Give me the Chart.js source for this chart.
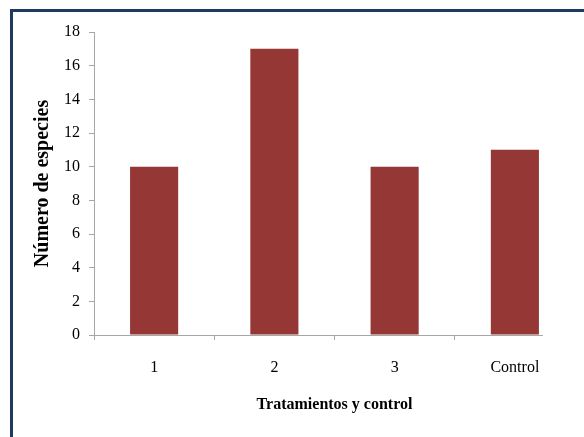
<!DOCTYPE html>
<html>
<head>
<meta charset="utf-8">
<script src="https://cdn.jsdelivr.net/npm/chart.js@4"></script>
<style>
  html, body { margin: 0; padding: 0; background: #fff; }
  #wrap { position: relative; width: 584px; height: 437px; overflow: hidden; }
  #frame { position: absolute; left: 10px; top: 9px; right: -10px; bottom: -10px;
           border-top: 3px solid #1F3A60; border-left: 3px solid #1F3A60; }
  #chart { position: absolute; left: 0; top: 0; }
</style>
</head>
<body>
<div id="wrap">
  <div id="frame"></div>
  <canvas id="chart" width="584" height="437"></canvas>
</div>
<script>
// data
const categories = ["1", "2", "3", "Control"];
const especies = [10, 17, 10, 11];
const yTicks = [0, 2, 4, 6, 8, 10, 12, 14, 16, 18];

const serif = "'Liberation Serif', 'Times New Roman', serif";
const axisGray = "#a6a6a6";

// the reference's x axis line stops just after the last bar
const shortAxis = {
    id: "shortAxis",
    afterDraw(chart) {
        const x = chart.scales.x;
        const area = chart.chartArea;
        const last = x.getPixelForValue(categories.length - 1);
        const ctx = chart.ctx;
        ctx.save();
        ctx.strokeStyle = axisGray;
        ctx.lineWidth = 1;
        ctx.beginPath();
        ctx.moveTo(area.left, area.bottom + 0.5);
        ctx.lineTo(last + 28, area.bottom + 0.5);
        ctx.stroke();
        ctx.restore();
    }
};

new Chart(document.getElementById("chart"), {
    type: "bar",
    data: {
        labels: categories,
        datasets: [{
            label: "Número de especies",
            data: especies,
            backgroundColor: "#953735",
            categoryPercentage: 1,
            barPercentage: 0.4
        }]
    },
    options: {
        responsive: false,
        animation: false,
        layout: { padding: { top: 32, right: 9, left: 0, bottom: 0 } },
        plugins: {
            legend: { display: false },
            tooltip: { enabled: false }
        },
        scales: {
            x: {
                offset: true,
                border: { display: false },
                grid: {
                    offset: true,
                    drawOnChartArea: false,
                    // no tick mark after the last category (cut off in the reference)
                    color: c => c.type === "tick" ? axisGray : "rgba(0,0,0,0)",
                    tickLength: 5
                },
                ticks: {
                    color: "#000",
                    padding: 18,
                    font: { family: serif, size: 16 }
                },
                title: {
                    display: true,
                    text: "Tratamientos y control",
                    color: "#000",
                    font: { family: serif, size: 16, weight: "bold" },
                    padding: { top: 0, bottom: 23 }
                },
                afterFit(scale) { scale.height = 102; }
            },
            y: {
                min: 0,
                max: 18,
                border: { color: axisGray },
                grid: {
                    drawOnChartArea: false,
                    color: axisGray,
                    tickLength: 5
                },
                afterBuildTicks(scale) {
                    scale.ticks = yTicks.map(v => ({ value: v }));
                },
                ticks: {
                    color: "#000",
                    padding: 9,
                    font: { family: serif, size: 16 }
                },
                title: {
                    display: true,
                    text: "Número de especies",
                    color: "#000",
                    font: { family: serif, size: 20, weight: "bold" },
                    padding: { top: 31, bottom: 0 }
                },
                afterFit(scale) { scale.width = 94; }
            }
        }
    },
    plugins: [shortAxis]
});
</script>
</body>
</html>
